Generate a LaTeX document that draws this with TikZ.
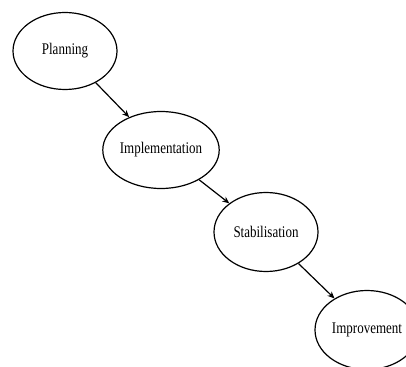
\documentclass[tikz,border=0pt]{standalone}
\usepackage{fontspec}
\usepackage{graphicx}
\setmainfont{Liberation Serif}
\usetikzlibrary{shapes.geometric,arrows.meta}
\newcommand{\talltext}[1]{\scalebox{1}[1.25]{#1}}
\begin{document}
\begin{tikzpicture}[x=1pt,y=-1pt,
  stage/.style={ellipse,draw,line width=1.2pt,minimum width=104pt,minimum height=77pt,inner sep=0pt,font=\fontsize{13}{15}\selectfont},
  flow/.style={-{Stealth[length=7pt,width=6pt]},line width=1.2pt}]
\useasboundingbox (0,0) rectangle (406,366);
\begin{scope}
\clip (0,0) rectangle (406,366);
\node[stage] (plan) at (65,51) {\talltext{Planning}};
\node[stage,minimum width=106pt] (impl) at (161,150) {\talltext{Implementation}};
\node[stage,minimum height=79pt] (stab) at (266,232) {\talltext{Stabilisation}};
\node[stage,minimum height=79pt] (impr) at (367,330) {\talltext{Improvement}};
\draw[flow] (plan) -- (impl);
\draw[flow] (impl) -- (stab);
\draw[flow] (stab) -- (impr);
\end{scope}
\end{tikzpicture}
\end{document}
